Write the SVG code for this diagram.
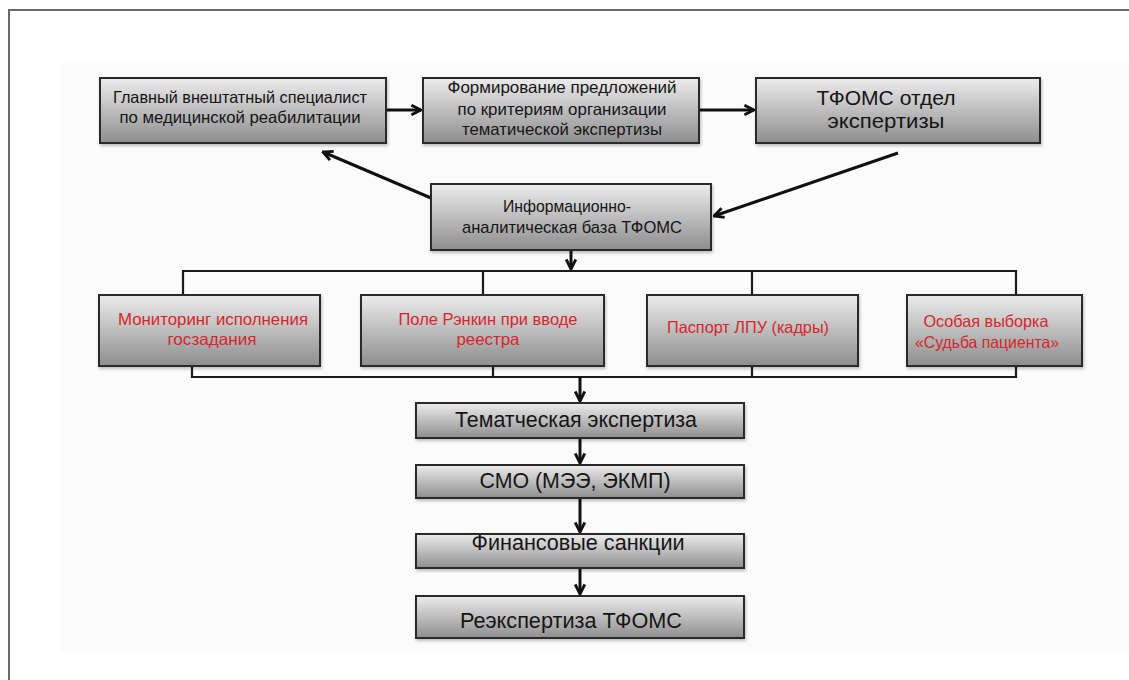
<svg xmlns="http://www.w3.org/2000/svg" width="1129" height="680" viewBox="0 0 1129 680">
<defs>
<linearGradient id="g" x1="0" y1="0" x2="0" y2="1">
<stop offset="0" stop-color="#ececec"/>
<stop offset="1" stop-color="#8e8e8e"/>
</linearGradient>
<filter id="sh" x="-5%" y="-10%" width="110%" height="130%">
<feDropShadow dx="1" dy="2" stdDeviation="1.5" flood-color="#000" flood-opacity="0.25"/>
</filter>
<marker id="ah" viewBox="0 0 10 10" refX="9" refY="5" markerWidth="12" markerHeight="12" markerUnits="userSpaceOnUse" orient="auto">
<path d="M1,1 L9,5 L1,9" fill="none" stroke="#111" stroke-width="2.4" stroke-linejoin="miter"/>
</marker>
<style>
.box{fill:url(#g);stroke:#2a2a2a;stroke-width:2;filter:url(#sh)}
.t{font-family:"Liberation Sans",Arial,sans-serif;fill:#151515;text-anchor:middle}
.r{font-family:"Liberation Sans",Arial,sans-serif;fill:#d7262c;text-anchor:middle}
.arr{stroke:#111;stroke-width:3;fill:none;marker-end:url(#ah)}
.bus{stroke:#1a1a1a;stroke-width:2.2;fill:none}
</style>
</defs>
<rect x="0" y="0" width="1129" height="680" fill="#ffffff"/>
<rect x="60" y="63" width="1069" height="589" fill="#fbfbfb"/>
<path d="M9,680 L9,10 L1129,10" fill="none" stroke="#6a6a6a" stroke-width="2"/>

<g id="connectors">
<line class="arr" x1="386" y1="110" x2="421" y2="110"/>
<line class="arr" x1="699" y1="110" x2="754" y2="110"/>
<line class="arr" x1="431" y1="198" x2="323" y2="152"/>
<line class="arr" x1="898" y1="153" x2="714" y2="216"/>
<line class="arr" x1="571" y1="250" x2="571" y2="269"/>
<path class="bus" d="M183,295 L183,271 L1016,271 L1016,295 M483,271 L483,295 M752,271 L752,295"/>
<path class="bus" d="M192,366 L192,377 L1016,377 L1016,366 M493,366 L493,377 M752,366 L752,377"/>
<line class="arr" x1="580" y1="377" x2="580" y2="401"/>
<line class="arr" x1="580" y1="438" x2="580" y2="463"/>
<line class="arr" x1="580" y1="498" x2="580" y2="532"/>
<line class="arr" x1="580" y1="568" x2="580" y2="594"/>
</g>

<g id="n1">
<rect class="box" x="100" y="78" width="286" height="65"/>
<text class="t" font-size="16.5"><tspan x="240" y="103" textLength="254" lengthAdjust="spacingAndGlyphs">Главный внештатный специалист</tspan><tspan x="240" y="123" textLength="241" lengthAdjust="spacingAndGlyphs">по медицинской реабилитации</tspan></text>
</g>
<g id="n2">
<rect class="box" x="423" y="78" width="276" height="65"/>
<text class="t" font-size="16.5"><tspan x="562" y="93" textLength="229" lengthAdjust="spacingAndGlyphs">Формирование предложений</tspan><tspan x="562" y="115" textLength="209" lengthAdjust="spacingAndGlyphs">по критериям организации</tspan><tspan x="562" y="135" textLength="200" lengthAdjust="spacingAndGlyphs">тематической экспертизы</tspan></text>
</g>
<g id="n3">
<rect class="box" x="756" y="78" width="284" height="65"/>
<text class="t" font-size="21"><tspan x="886" y="105" textLength="139" lengthAdjust="spacingAndGlyphs">ТФОМС отдел</tspan><tspan x="886" y="128" textLength="117" lengthAdjust="spacingAndGlyphs">экспертизы</tspan></text>
</g>
<g id="n4">
<rect class="box" x="431" y="184" width="280" height="66"/>
<text class="t" font-size="17"><tspan x="567" y="212" textLength="128" lengthAdjust="spacingAndGlyphs">Информационно-</tspan><tspan x="572" y="233" textLength="220" lengthAdjust="spacingAndGlyphs">аналитическая база ТФОМС</tspan></text>
</g>
<g id="n5">
<rect class="box" x="99" y="295" width="221" height="71"/>
<text class="r" font-size="16.5"><tspan x="213" y="325" textLength="190" lengthAdjust="spacingAndGlyphs">Мониторинг исполнения</tspan><tspan x="212" y="345" textLength="89" lengthAdjust="spacingAndGlyphs">госзадания</tspan></text>
</g>
<g id="n6">
<rect class="box" x="361" y="295" width="243" height="71"/>
<text class="r" font-size="16.5"><tspan x="488" y="325" textLength="179" lengthAdjust="spacingAndGlyphs">Поле Рэнкин при вводе</tspan><tspan x="488" y="345" textLength="63" lengthAdjust="spacingAndGlyphs">реестра</tspan></text>
</g>
<g id="n7">
<rect class="box" x="647" y="295" width="211" height="71"/>
<text class="r" font-size="16.5"><tspan x="748" y="333" textLength="162" lengthAdjust="spacingAndGlyphs">Паспорт ЛПУ (кадры)</tspan></text>
</g>
<g id="n8">
<rect class="box" x="907" y="295" width="175" height="71"/>
<text class="r" font-size="16.5"><tspan x="986" y="327" textLength="125" lengthAdjust="spacingAndGlyphs">Особая выборка</tspan><tspan x="987" y="348" textLength="144" lengthAdjust="spacingAndGlyphs">«Судьба пациента»</tspan></text>
</g>
<g id="n9">
<rect class="box" x="416" y="403" width="328" height="35"/>
<text class="t" font-size="21.5" x="576" y="427" textLength="242" lengthAdjust="spacingAndGlyphs">Тематческая экспертиза</text>
</g>
<g id="n10">
<rect class="box" x="416" y="465" width="328" height="33"/>
<text class="t" font-size="21.5" x="575" y="488" textLength="191" lengthAdjust="spacingAndGlyphs">СМО (МЭЭ, ЭКМП)</text>
</g>
<g id="n11">
<rect class="box" x="416" y="534" width="328" height="34"/>
<text class="t" font-size="21.5" x="578" y="550" textLength="213" lengthAdjust="spacingAndGlyphs">Финансовые санкции</text>
</g>
<g id="n12">
<rect class="box" x="416" y="596" width="328" height="42"/>
<text class="t" font-size="21.5" x="571" y="628" textLength="222" lengthAdjust="spacingAndGlyphs">Реэкспертиза ТФОМС</text>
</g>
</svg>
